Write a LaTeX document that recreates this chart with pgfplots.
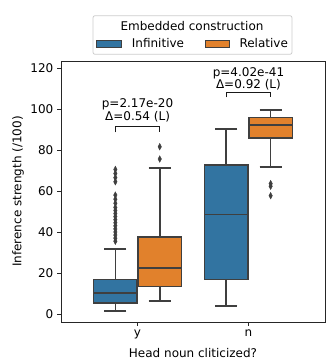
\documentclass[border=0pt]{standalone}
\usepackage{fontspec}
\setmainfont{DejaVu Sans}
\usepackage{pgfplots}
\pgfplotsset{compat=1.18}
\usepgfplotslibrary{statistics}
\definecolor{cblue}{HTML}{3274A1}
\definecolor{corange}{HTML}{E1812C}
\definecolor{cedge}{HTML}{3F3F3F}
\begin{document}
\fontsize{12}{14.4}\selectfont
\begin{tikzpicture}
\useasboundingbox (0pt,0pt) rectangle (327pt,362pt);
\begin{axis}[at={(61pt,40pt)}, anchor=south west, scale only axis,
  width=264pt, height=261pt,
  xmin=-0.69, xmax=1.69, ymin=-3.9, ymax=123.4,
  xtick={0,1}, xticklabels={y,n}, ytick={0,20,...,120},
  tick align=outside, tick pos=left, major tick length=3.5pt,
  tick style={line width=0.8pt, black!85},
  axis line style={line width=0.8pt, black!85},
  /pgf/number format/assume math mode=true,
  ticklabel style={font=\fontsize{12}{14}\selectfont},
  label style={font=\fontsize{12}{14}\selectfont},
  xlabel={Head noun cliticized?}, ylabel={Inference strength (/100)},
  xlabel style={at={(axis description cs:0.5,0)}, anchor=center, yshift=-31pt},
  ylabel style={at={(axis description cs:0,0.5)}, anchor=center, yshift=43pt},
  clip=false,
  boxplot/draw direction=y,
  boxplot/whisker extend=0.2,
  boxplot/box extend=0.39,
  boxplot/every whisker/.style={draw=cedge, line width=1.7pt},
  boxplot/every median/.style={draw=cedge, line width=1.7pt},
  boxplot/every box/.style={line width=1.5pt},
]
% Infinitive, y
\addplot[boxplot prepared={draw position=-0.2, lower whisker=1.3, lower quartile=5.4, median=10.4, upper quartile=16.9, upper whisker=31.6},
  fill=cblue, draw=cedge, line width=1.5pt, solid, mark=diamond*, mark size=3.3pt,
  mark options={fill=cedge, draw=cedge, line width=0.4pt, xscale=0.7}]
  coordinates {(0,35.5) (0,37) (0,38.5) (0,40) (0,41.5) (0,43) (0,44.5) (0,46) (0,47.5) (0,49) (0,50.5) (0,52) (0,54) (0,56) (0,58) (0,64.5) (0,66.5) (0,68.5) (0,70.5)};
% Relative, y
\addplot[boxplot prepared={draw position=0.2, lower whisker=6.3, lower quartile=13.3, median=22.4, upper quartile=37.6, upper whisker=71.1},
  fill=corange, draw=cedge, line width=1.5pt, solid, mark=diamond*, mark size=3.3pt,
  mark options={fill=cedge, draw=cedge, line width=0.4pt, xscale=0.7}]
  coordinates {(0,75.6) (0,81.6)};
% Infinitive, n
\addplot[boxplot prepared={draw position=0.8, lower whisker=4.0, lower quartile=16.9, median=48.6, upper quartile=72.7, upper whisker=90.1},
  fill=cblue, draw=cedge, line width=1.5pt, solid, mark=none]
  coordinates {};
% Relative, n
\addplot[boxplot prepared={draw position=1.2, lower whisker=71.7, lower quartile=85.9, median=92.3, upper quartile=95.8, upper whisker=99.5},
  fill=corange, draw=cedge, line width=1.5pt, solid, mark=diamond*, mark size=3.3pt,
  mark options={fill=cedge, draw=cedge, line width=0.4pt, xscale=0.7}]
  coordinates {(0,57.7) (0,62.3) (0,63.6)};
% brackets
\addplot[black!90, line width=1.3pt, mark=none, sharp plot] coordinates {(-0.2,88.6) (-0.2,91.4) (0.2,91.4) (0.2,88.6)};
\addplot[black!90, line width=1.3pt, mark=none, sharp plot] coordinates {(0.8,105.7) (0.8,108.1) (1.2,108.1) (1.2,105.7)};
\node[anchor=center] at (axis cs:0,102.2) {p=2.17e-20};
\node[anchor=center] at (axis cs:0,96.4) {Δ=0.54 (L)};
\node[anchor=center] at (axis cs:1,117.6) {p=4.02e-41};
\node[anchor=center] at (axis cs:1,111.8) {Δ=0.92 (L)};
\end{axis}
% legend
\draw[rounded corners=2pt, draw=black!20, fill=white, line width=0.8pt] (93pt,307.7pt) rectangle (292pt,346.3pt);
\node[anchor=center] at (192pt,336.3pt) {Embedded construction};
\draw[draw=cedge, fill=cblue, line width=0.8pt] (96.7pt,314.7pt) rectangle (121pt,322pt);
\node[anchor=west, inner sep=0pt] at (131.7pt,318.5pt) {Infinitive};
\draw[draw=cedge, fill=corange, line width=0.8pt] (205pt,314.7pt) rectangle (229.3pt,322pt);
\node[anchor=west, inner sep=0pt] at (239.3pt,318.5pt) {Relative};
\end{tikzpicture}
\end{document}
